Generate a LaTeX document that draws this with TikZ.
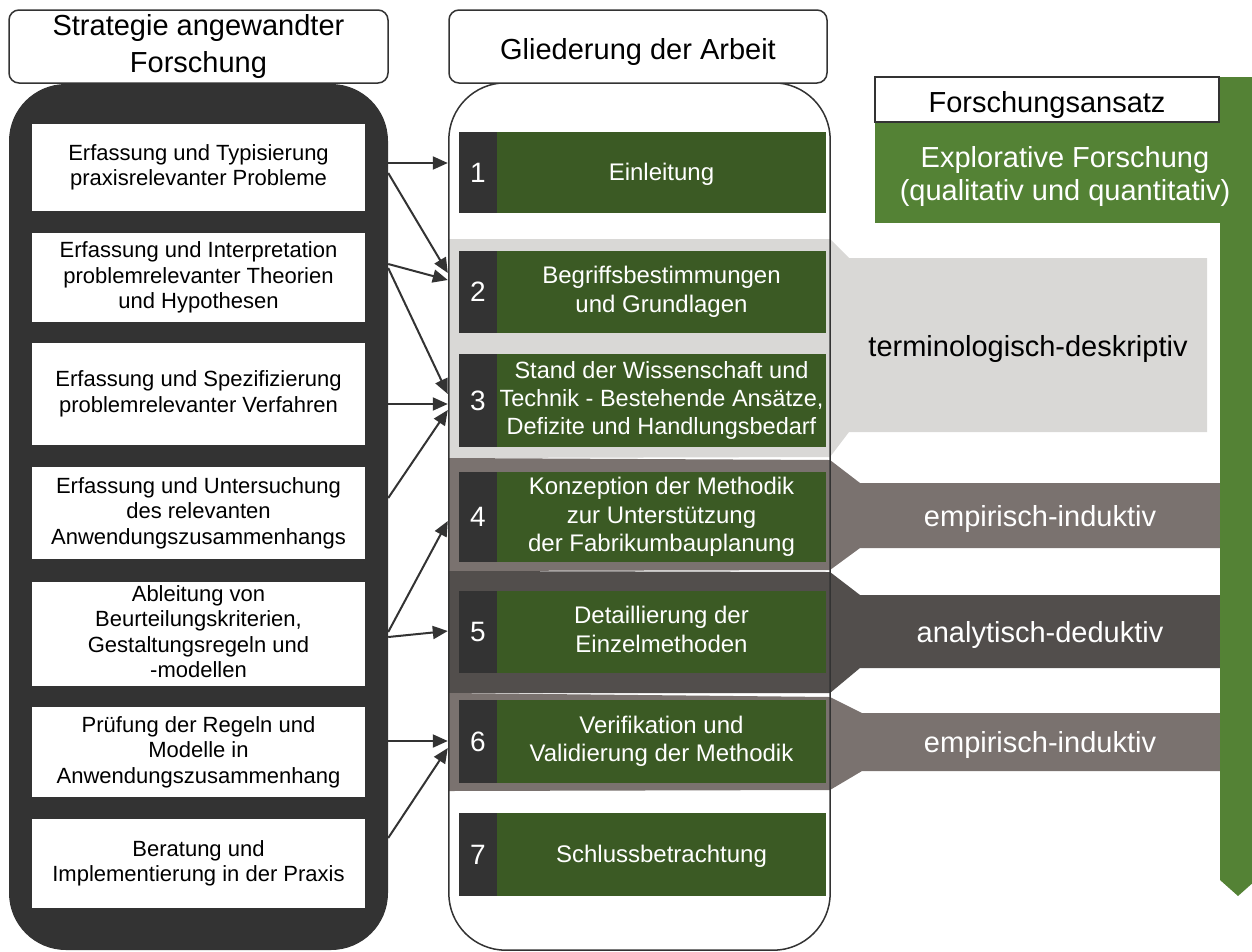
\documentclass[tikz,border=0pt]{standalone}
\usepackage{fontspec}
\setmainfont{Liberation Sans}
\usetikzlibrary{arrows.meta,calc}
\definecolor{dark}{HTML}{333333}
\definecolor{boxgreen}{HTML}{3B5A24}
\definecolor{bargreen}{HTML}{548235}
\definecolor{lightband}{HTML}{D9D8D6}
\definecolor{midband}{HTML}{7A726F}
\definecolor{deepband}{HTML}{524E4C}
% struts giving every text block the full ascent/descent of the font,
% so that text is centred on its line box rather than on its glyphs
\newcommand\ascstrut{\rule{0pt}{0.905em}}
\newcommand\descstrut{\rule[-0.212em]{0pt}{0pt}}
\newcommand\tallstrut{\rule{0pt}{1.1em}}

\begin{document}
\begin{tikzpicture}[x=1pt,y=-1pt,
  every node/.append style={execute at begin node=\ascstrut, execute at end node=\descstrut},
  header/.style={draw=dark, line width=1.5pt, fill=white, rounded corners=10pt,
    inner sep=0pt, minimum height=73pt, align=center,
    font=\fontsize{29}{37}\selectfont, execute at begin node=\tallstrut},
  strat/.style={fill=white, inner sep=0pt, minimum width=333pt, align=center,
    font=\fontsize{22}{25.5}\selectfont},
  chap/.style={fill=boxgreen, text=white, inner sep=0pt, minimum width=329pt,
    align=center, font=\fontsize{24}{28.5}\selectfont},
  chapno/.style={fill=dark, text=white, inner sep=0pt, minimum width=38pt,
    font=\fontsize{28}{30}\selectfont},
  bandlabel/.style={font=\fontsize{29}{34}\selectfont},
  link/.style={draw=dark, line width=2pt, -{Triangle[length=15pt,width=13pt]}},
]
\useasboundingbox (0,0) rectangle (1252,951);

% ---- left column: strategy of applied research ----
\node[fill=dark, rounded corners=57pt, minimum width=379pt, minimum height=866pt,
  inner sep=0pt] (lcont) at (198.5,517) {};
\node[header, minimum width=379pt] (hL) at (198.5,46.5) {Strategie angewandter\\Forschung};

\node[strat, minimum height=87pt]  (L1) at (198.5,167.5) {Erfassung und Typisierung\\praxisrelevanter Probleme};
\node[strat, minimum height=89pt]  (L2) at (198.5,277.5) {Erfassung und Interpretation\\problemrelevanter Theorien\\und Hypothesen};
\node[strat, minimum height=102pt] (L3) at (198.5,394)   {Erfassung und Spezifizierung\\problemrelevanter Verfahren};
\node[strat, minimum height=92pt]  (L4) at (198.5,513)   {Erfassung und Untersuchung\\des relevanten\\Anwendungszusammenhangs};
\node[strat, minimum height=104pt] (L5) at (198.5,634)   {Ableitung von\\Beurteilungskriterien,\\Gestaltungsregeln und\\-modellen};
\node[strat, minimum height=90pt]  (L6) at (198.5,752)   {Prüfung der Regeln und\\Modelle in\\Anwendungszusammenhang};
\node[strat, minimum height=89pt]  (L7) at (198.5,863.5) {Beratung und\\Implementierung in der Praxis};

% ---- middle column: structure of the thesis ----
\node[fill=white, rounded corners=57pt, minimum width=381pt, minimum height=867pt,
  inner sep=0pt] (mcont) at (639.5,516.5) {};

% research-approach bands with their chevrons
\fill[lightband] (449,239) -- (830,239) -- (849,258) -- (1207,258) -- (1207,432)
  -- (849,432) -- (830,457) -- (449,458) -- cycle;
\fill[midband] (449,458) -- (830,460) -- (860,483) -- (1220,483) -- (1220,548)
  -- (860,548) -- (830,570) -- (449,571) -- cycle;
\fill[deepband] (449,571) -- (830,572) -- (860,595) -- (1222,595) -- (1222,668)
  -- (860,668) -- (830,693) -- (449,693) -- cycle;
\fill[midband] (449,693) -- (830,697) -- (862,713) -- (1220,713) -- (1220,771)
  -- (862,771) -- (830,790) -- (449,791) -- cycle;

\draw[dark, line width=1.5pt, rounded corners=57pt] (mcont.north west) rectangle (mcont.south east);
\node[header, minimum width=378pt] (hM) at (638,46.5) {Gliederung der Arbeit};

\node[chapno, minimum height=81pt] (N1) at (478,172.5) {1};
\node[chap,   minimum height=81pt] (G1) at (661.5,172.5) {Einleitung};
\node[chapno, minimum height=82pt] (N2) at (478,292) {2};
\node[chap,   minimum height=82pt] (G2) at (661.5,292) {Begriffsbestimmungen\\und Grundlagen};
\node[chapno, minimum height=93pt] (N3) at (478,400.5) {3};
\node[chap,   minimum height=93pt, font=\fontsize{23.5}{28}\selectfont] (G3) at (661.5,400.5)
  {Stand der Wissenschaft und\\Technik - Bestehende Ansätze,\\Defizite und Handlungsbedarf};
\node[chapno, minimum height=90pt] (N4) at (478,517) {4};
\node[chap,   minimum height=90pt] (G4) at (661.5,517) {Konzeption der Methodik\\zur Unterstützung\\der Fabrikumbauplanung};
\node[chapno, minimum height=82pt] (N5) at (478,632) {5};
\node[chap,   minimum height=82pt] (G5) at (661.5,632) {Detaillierung der\\Einzelmethoden};
\node[chapno, minimum height=83pt] (N6) at (478,741.5) {6};
\node[chap,   minimum height=83pt] (G6) at (661.5,741.5) {Verifikation und\\Validierung der Methodik};
\node[chapno, minimum height=83pt] (N7) at (478,854.5) {7};
\node[chap,   minimum height=83pt] (G7) at (661.5,854.5) {Schlussbetrachtung};

% ---- right column: research approach ----
\fill[bargreen] (1220,77) -- (1256,77) -- (1256,880) -- (1238,896) -- (1220,880) -- cycle;
\fill[bargreen] (875,123) rectangle (1256,223);
\node[draw=dark, line width=1.5pt, fill=white, minimum width=344pt, minimum height=45pt,
  inner sep=0pt, font=\fontsize{29}{33}\selectfont, execute at begin node=\tallstrut]
  (ansatz) at (1047,99.5) {Forschungsansatz};
\node[font=\fontsize{29}{33}\selectfont, text=white, align=center, inner sep=0pt] (explo) at (1065,177)
  {Explorative Forschung\\(qualitativ und quantitativ)};

\node[bandlabel] (t1) at (1028,346) {terminologisch-deskriptiv};
\node[bandlabel, text=white] (t2) at (1040,516) {empirisch-induktiv};
\node[bandlabel, text=white] (t3) at (1040,632) {analytisch-deduktiv};
\node[bandlabel, text=white] (t4) at (1040,742) {empirisch-induktiv};

% ---- links from research steps to chapters ----
\draw[link] ($(L1.east -| lcont.east)+(0,-4.5)$)  -- ($(G1.west -| mcont.west)+(-1,-9.5)$);
\draw[link] ($(L1.east -| lcont.east)+(0,5.5)$)   -- ($(G2.west -| mcont.west)+(-1,-19)$);
\draw[link] ($(L2.east -| lcont.east)+(0,-13.5)$) -- ($(G2.west -| mcont.west)+(-1,-12)$);
\draw[link] ($(L2.east -| lcont.east)+(0,-9.5)$)  -- ($(G3.west -| mcont.west)+(-1,-6.5)$);
\draw[link] ($(L3.east -| lcont.east)+(0,10)$)    -- ($(G3.west -| mcont.west)+(-1,3.5)$);
\draw[link] ($(L4.east -| lcont.east)+(0,-15)$)   -- ($(G3.west -| mcont.west)+(-1,9.5)$);
\draw[link] ($(L5.east -| lcont.east)+(0,-2)$)    -- ($(G4.west -| mcont.west)+(-1,4)$);
\draw[link] ($(L5.east -| lcont.east)+(0,3)$)     -- ($(G5.west -| mcont.west)+(-1,-1)$);
\draw[link] ($(L6.east -| lcont.east)+(0,-11)$)   -- ($(G6.west -| mcont.west)+(-1,-0.5)$);
\draw[link] ($(L7.east -| lcont.east)+(0,-25.5)$) -- ($(G6.west -| mcont.west)+(-1,6.5)$);
\end{tikzpicture}
\end{document}
